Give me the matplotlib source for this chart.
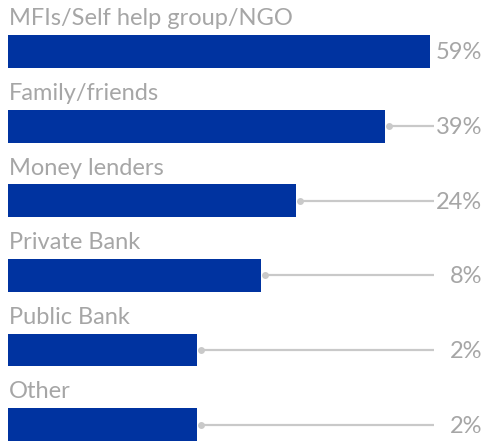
import numpy as np
import matplotlib
matplotlib.use("Agg")
import matplotlib.pyplot as plt

# sources of borrowing
categories = ["MFIs/Self help group/NGO", "Family/friends", "Money lenders",
              "Private Bank", "Public Bank", "Other"]
# bar index (longest bar = 100) and the share shown at the right
bar_index = [100, 89.3, 68.2, 60.0, 44.8, 44.8]
share_pct = [59, 39, 24, 8, 2, 2]

blue = "#0033A0"
grey_txt = "#A6A6A6"
grey_line = "#C9C9C9"

plt.rcParams["font.family"] = ["Lato", "DejaVu Sans"]

W, H = 483, 441
fig = plt.figure(figsize=(W / 100, H / 100), dpi=100)
left_px = 8
full = 100 * (W - left_px) / 422.0
ax = fig.add_axes([left_px / W, 0, 1 - left_px / W, 1])
ax.set_xlim(0, full)
ax.set_ylim(5.22, -0.69)
ax.axis("off")

y = np.arange(len(categories))
bar_h = 0.44
ax.barh(y, bar_index, height=bar_h, color=blue, left=0)

line_end = 100 * (434 - left_px) / 422.0
for yi, name, v, p in zip(y, categories, bar_index, share_pct):
    ax.text(0.3, yi - bar_h / 2 - 0.13, name, ha="left", va="baseline",
            fontsize=17, color=grey_txt)
    if v < line_end - 2:
        x0 = v + 100 * 4 / 422.0
        ax.plot([x0, line_end], [yi, yi], color=grey_line, lw=1.6,
                solid_capstyle="butt", zorder=1)
        ax.plot([x0], [yi], "o", color=grey_line, ms=5, mec="none", zorder=2)
    ax.text(full - 100 * 1.0 / 422.0, yi + 0.02, f"{p}%", ha="right",
            va="center", fontsize=17, color=grey_txt)

fig.savefig("out.png", dpi=100)
